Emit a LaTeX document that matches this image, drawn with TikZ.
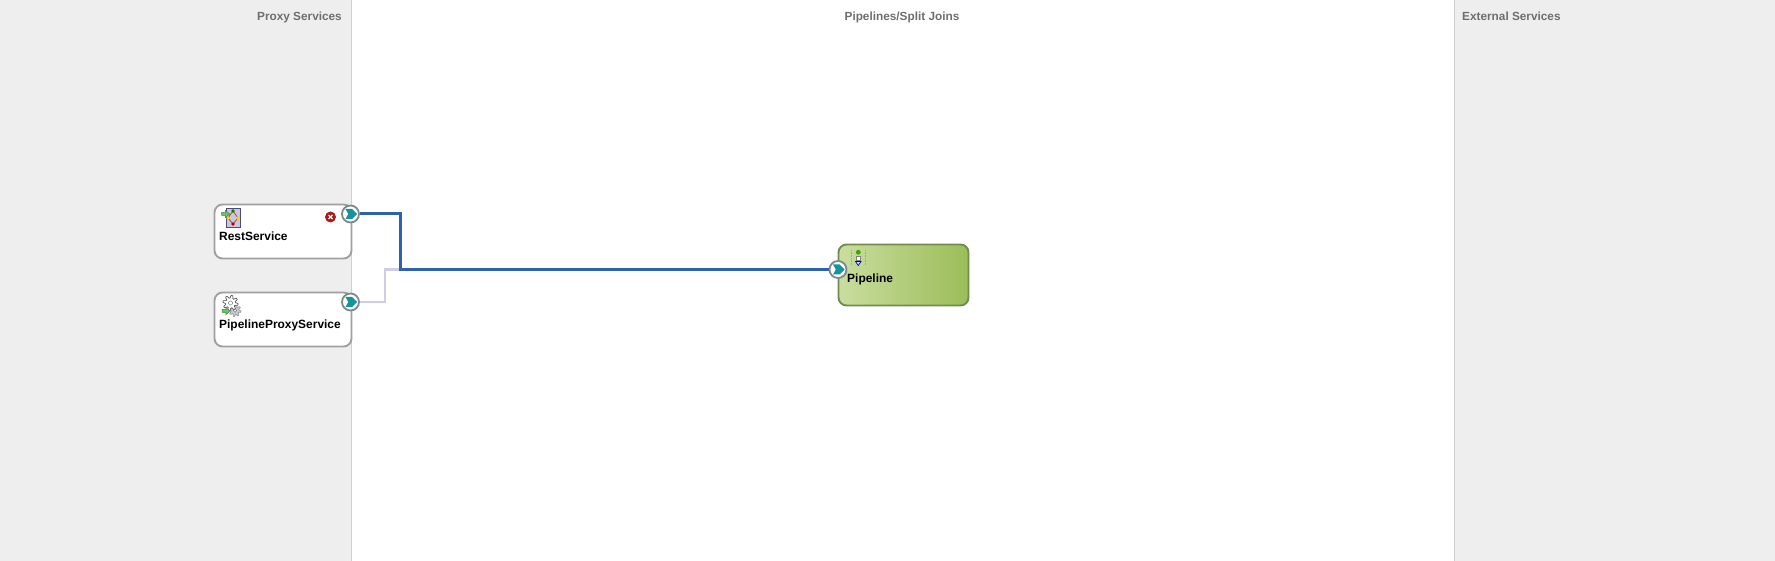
\documentclass[tikz,border=0pt]{standalone}
\usepackage{fontspec}
\setmainfont{Liberation Sans}
\definecolor{panelgray}{HTML}{EEEEEE}
\definecolor{edgegray}{HTML}{CFCFCF}
\definecolor{headgray}{HTML}{6E6E6E}
\definecolor{boxgray}{HTML}{A0A0A0}
\definecolor{portgray}{HTML}{7D8A8A}
\definecolor{tealmark}{HTML}{14949F}
\definecolor{mainblue}{HTML}{2F62AD}
\definecolor{palelink}{HTML}{D3CBEA}
\definecolor{pipeleft}{HTML}{CADD9F}
\definecolor{piperight}{HTML}{9BBD59}
\definecolor{pipeedge}{HTML}{718C4C}
\definecolor{arrowgreen}{HTML}{6CC06C}
\definecolor{arrowedge}{HTML}{3C8A3C}
\definecolor{lavender}{HTML}{CBC6E6}
\definecolor{iconedge}{HTML}{4C4C7C}
\tikzset{
  head/.style={font=\fontsize{11.8}{14}\selectfont\bfseries,text=headgray,inner sep=0pt},
  label/.style={font=\fontsize{11.95}{14}\selectfont\bfseries,text=black,inner sep=0pt,anchor=base west},
  servicebox/.style={draw=boxgray,fill=white,line width=1.9pt,rounded corners=8pt,minimum width=137pt,minimum height=54pt,inner sep=0pt},
  pipebox/.style={draw=pipeedge,left color=pipeleft,right color=piperight,line width=1.9pt,rounded corners=8pt,minimum width=130pt,minimum height=61pt,inner sep=0pt},
  port/.style={circle,draw=portgray,fill=white,line width=1.8pt,minimum size=17pt,inner sep=0pt},
  mainlink/.style={draw=mainblue,line width=3pt},
  palelink/.style={draw=palelink,line width=2.4pt},
  chevron/.pic={\fill[tealmark] (-5,-5) -- (1.5,-5) -- (6.5,0) -- (1.5,5) -- (-5,5) -- (-2.2,0) -- cycle;},
  greenarrow/.pic={\fill[arrowgreen,draw=arrowedge,line width=0.5pt] (-6,-2) -- (-1,-2) -- (-1,-5) -- (5,0) -- (-1,5) -- (-1,2) -- (-6,2) -- cycle;},
  gear/.pic={
    \filldraw[pic actions,line width=0.7pt] plot[samples=65,domain=0:360] (\x:{6.6+1.4*sign(sin(8*\x))}) -- cycle;
    \filldraw[fill=white,draw=gray,line width=0.5pt] (0,0) circle (2.2);
  }
}
\begin{document}
\begin{tikzpicture}[x=1pt,y=-1pt]
  \useasboundingbox (0,0) rectangle (1775,561);
  \fill[panelgray] (0,0) rectangle (351.5,561);
  \fill[panelgray] (1454.5,0) rectangle (1775,561);
  \draw[edgegray,line width=0.9pt] (351.5,0) -- (351.5,561);
  \draw[edgegray,line width=0.9pt] (1454.5,0) -- (1454.5,561);

  \node (proxyhead) at (342,21) [head,anchor=base east] {Proxy Services};
  \node (pipehead) at (902,21) [head,anchor=base] {Pipelines/Split Joins};
  \node (exthead) at (1462,21) [head,anchor=base west] {External Services};

  \node (rest) at (283,231.5) [servicebox] {};
  \node (proxy) at (283,319.5) [servicebox] {};
  \node (pipe) at (903.5,275) [pipebox] {};

  \node (portrest) at (350.5,214) [port] {};
  \node (portproxy) at (350.5,302) [port] {};
  \node (portpipe) at (838,269.5) [port] {};
  \pic at (portrest) {chevron};
  \pic at (portproxy) {chevron};
  \pic at (portpipe) {chevron};

  \coordinate (benda) at (400.5,214);
  \coordinate (bendb) at (400.5,269.5);
  \coordinate (bendc) at (385,302);
  \coordinate (bendd) at (385,269.5);

  \draw[palelink] (portproxy) -- (bendc) -- (bendd) -- (bendb);
  \draw[mainlink] (portrest) -- (benda) -- (bendb) -- (portpipe);

  \node (restlabel) at (219,240.5) [label] {RestService};
  \node (proxylabel) at (219,328) [label] {PipelineProxyService};
  \node (pipelabel) at (847,282.5) [label] {Pipeline};

  % rest icon
  \filldraw[fill=lavender,draw=iconedge,line width=0.8pt] (226.5,208.5) rectangle (240,227);
  \draw[orange!60!black,line width=0.7pt] (233,211) -- (238,218) -- (233,224) -- (228,218) -- cycle;
  \fill[green!50!black] (233,211) circle (1.8);
  \fill[yellow!70!orange] (238,218) circle (1.8) (228,218) circle (1.8);
  \fill[red!70!black] (233,224) circle (1.8);
  \pic at (226,214) [scale=0.75] {greenarrow};

  % error mark
  \node (err) at (330.5,217) [circle,fill=red!65!black!90!white,minimum size=11pt,inner sep=0pt] {};
  \draw[white,line width=1.2pt] (328.5,215) -- (332.5,219) (328.5,219) -- (332.5,215);

  % proxy icon
  \pic[fill=gray!40,draw=gray!80] at (235,310.5) [scale=0.75] {gear};
  \pic[fill=white,draw=gray!70!black] at (230.5,303) [scale=0.95] {gear};
  \pic at (226.5,311) [scale=0.75] {greenarrow};

  % pipeline icon
  \draw[gray!70,densely dotted,line width=0.6pt] (851.7,250) -- (851.7,265) (865,250) -- (865,265);
  \fill[green!50!black!70!lime] (858.3,252.3) circle (2.4);
  \draw[gray,fill=white,line width=0.6pt] (856.2,256) rectangle (860.4,260);
  \filldraw[fill=cyan!30,draw=blue!60!black,line width=0.6pt] (855.5,261.5) -- (861,261.5) -- (858.3,265.5) -- cycle;
\end{tikzpicture}
\end{document}
